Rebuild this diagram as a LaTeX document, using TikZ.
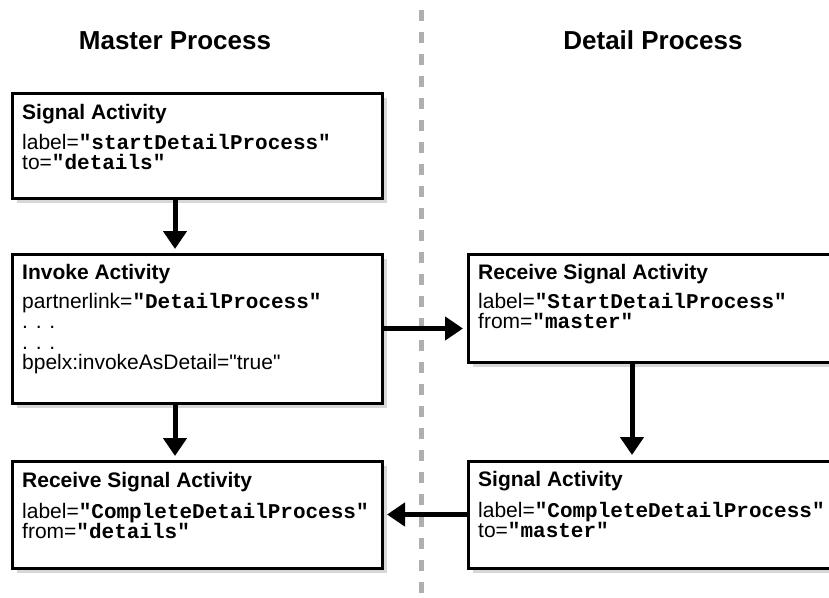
\documentclass[tikz,border=0pt]{standalone}
\usepackage{fontspec}
\setmainfont{Liberation Sans}[Ligatures=TeXOff]
\setmonofont{Liberation Mono}
\usetikzlibrary{arrows.meta,shadows,calc}
\definecolor{shadowgray}{RGB}{215,215,215}
\definecolor{dashgray}{RGB}{175,175,175}
\newcommand{\monob}[1]{\texttt{\textbf{#1}}}
\begin{document}
\begin{tikzpicture}[x=1pt,y=-1pt,
  box/.style={draw, line width=3pt, fill=white, minimum width=370pt, anchor=north west, inner sep=0pt, outer sep=0pt,
    drop shadow={shadow xshift=5pt, shadow yshift=-5pt, fill=shadowgray, opacity=1}},
  txt/.style={anchor=base west, inner sep=0pt, font=\fontsize{21}{20.5}\selectfont},
  arr/.style={line width=5pt, -{Triangle[width=23pt,length=18pt]}},
  hdr/.style={font=\fontsize{26}{30}\selectfont\bfseries, anchor=base, inner sep=0pt}]
\useasboundingbox (0,0) rectangle (829,597);
\clip (0,0) rectangle (829,597);

% lane divider
\coordinate (dtop) at (421,10);
\coordinate (dbot) at (421,597);
\draw[dashgray, line width=5pt, dash pattern=on 11pt off 11pt] (dtop) -- (dbot);

% headers
\node[hdr] (hm) at (175,49) {Master Process};
\node[hdr] (hd) at (653,49) {Detail Process};

% boxes
\node[box, minimum height=105pt] (b1) at (12,93) {};
\node[box, minimum height=149pt] (b2) at (12,254) {};
\node[box, minimum height=107pt] (b3) at (12,461) {};
\node[box, minimum height=108pt] (b4) at (468,254) {};
\node[box, minimum height=107pt] (b5) at (468,461) {};

% texts
\node[txt] (t1) at ($(b1.north west)+(10,26)$) {\parbox[t]{360pt}{\baselineskip=20pt
  \textbf{Signal Activity}\\[10pt]
  label=\monob{"startDetailProcess"}\\
  to=\monob{"details"}}};
\node[txt] (t2) at ($(b2.north west)+(10,25)$) {\parbox[t]{360pt}{\baselineskip=20.5pt
  \textbf{Invoke Activity}\\[8.5pt]
  partnerlink=\monob{"DetailProcess"}\\
  . . .\\
  . . .\\
  bpelx:invokeAsDetail="true"}};
\node[txt] (t3) at ($(b3.north west)+(10,26)$) {\parbox[t]{360pt}{\baselineskip=20pt
  \textbf{Receive Signal Activity}\\[11pt]
  label=\monob{"CompleteDetailProcess"}\\
  from=\monob{"details"}}};
\node[txt] (t4) at ($(b4.north west)+(10,25)$) {\parbox[t]{360pt}{\baselineskip=20pt
  \textbf{Receive Signal Activity}\\[9pt]
  label=\monob{"StartDetailProcess"}\\
  from=\monob{"master"}}};
\node[txt] (t5) at ($(b5.north west)+(10,25)$) {\parbox[t]{360pt}{\baselineskip=20pt
  \textbf{Signal Activity}\\[11pt]
  label=\monob{"CompleteDetailProcess"}\\
  to=\monob{"master"}}};

% connectors
\coordinate (cl) at (175,0);
\coordinate (cr) at (632,0);
\draw[arr] (b1.south -| cl) -- ([yshift=5pt]b2.north -| cl);
\draw[arr] (b2.south -| cl) -- ([yshift=5pt]b3.north -| cl);
\draw[arr] (b4.south -| cr) -- ([yshift=6pt]b5.north -| cr);
\draw[arr] (b2.east) -- ([xshift=-5pt]b4.west |- b2.east);
\draw[arr] (b5.west) -- ([xshift=5pt]b3.east |- b5.west);
\end{tikzpicture}
\end{document}
